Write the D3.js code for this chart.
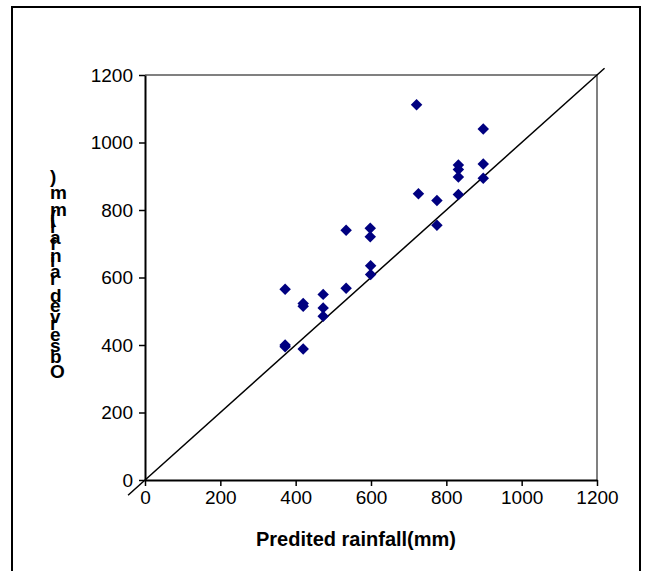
<!DOCTYPE html>
<html><head><meta charset="utf-8">
<script src="https://cdn.jsdelivr.net/npm/d3@7"></script>
<style>body{margin:0;background:#fff}svg{display:block}</style>
</head><body>
<script>
const predicted = [721, 898, 832, 832, 832, 898, 898, 726, 775, 832, 775, 534, 598, 598,
  372, 420, 420, 473, 473, 473, 534, 599, 599, 372, 372, 420];
const observed  = [1112, 1040, 933, 920, 898, 936, 894, 848, 828, 846, 755, 740, 746, 721,
  565, 523, 515, 550, 510, 485, 568, 635, 609, 400, 395, 388];
const tickValues = [0, 200, 400, 600, 800, 1000, 1200];
const lineEnds = [-45, 1220];
const xTitle = "Predited rainfall(mm)";
const yTitle = "Observed rainfall(mm)";

const W = 651, H = 571;
const svg = d3.select("body").append("svg").attr("width", W).attr("height", H);
const font = "'Liberation Sans', Arial, sans-serif";

svg.append("rect").attr("x", 12).attr("y", 7).attr("width", 628).attr("height", 580)
  .attr("fill", "none").attr("stroke", "#000").attr("stroke-width", 2);

const x = d3.scaleLinear().domain([0, 1200]).range([145, 597]);
const y = d3.scaleLinear().domain([0, 1200]).range([480, 75]);

svg.append("path").attr("d", `M${x(0)},${y(1200)}H${x(1200)}V${y(0)}`)
  .attr("fill", "none").attr("stroke", "#808080").attr("stroke-width", 2);

const fmt = d3.format("d");
const xAxis = svg.append("g").attr("transform", `translate(0,${y(0)})`)
  .call(d3.axisBottom(x).tickValues(tickValues).tickFormat(fmt).tickSize(6).tickSizeOuter(0).tickPadding(5));
const yAxis = svg.append("g").attr("transform", `translate(${x(0)},0)`)
  .call(d3.axisLeft(y).tickValues(tickValues).tickFormat(fmt).tickSize(6).tickSizeOuter(0).tickPadding(6));
[xAxis, yAxis].forEach(g => {
  g.select(".domain").attr("stroke", "#000").attr("stroke-width", 2);
  g.selectAll(".tick line").attr("stroke", "#000").attr("stroke-width", 1.5);
  g.selectAll(".tick text").attr("font-family", font).attr("font-size", 19).attr("fill", "#000");
});

svg.append("line")
  .attr("x1", x(lineEnds[0])).attr("y1", y(lineEnds[0]))
  .attr("x2", x(lineEnds[1])).attr("y2", y(lineEnds[1]))
  .attr("stroke", "#000").attr("stroke-width", 1.5);

svg.append("g").selectAll("path").data(predicted.map((p, i) => [p, observed[i]]))
  .join("path")
  .attr("d", d3.symbol().type(d3.symbolSquare).size(66))
  .attr("transform", d => `translate(${x(d[0])},${y(d[1])}) rotate(45)`)
  .attr("fill", "#000080");

svg.append("text").attr("x", 356).attr("y", 546)
  .attr("text-anchor", "middle").attr("font-family", font).attr("font-size", 20)
  .attr("font-weight", "bold").text(xTitle);

svg.append("text").attr("transform", "translate(50,378) rotate(-90)")
  .attr("font-family", font).attr("font-size", 19).attr("font-weight", "bold")
  .attr("rotate", "90").text(yTitle);
</script>
</body></html>
